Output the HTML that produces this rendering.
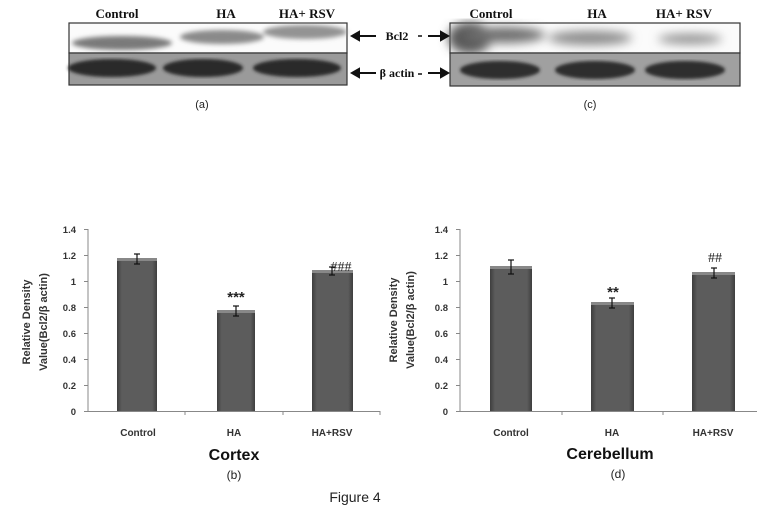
<!DOCTYPE html>
<html><head><meta charset="utf-8"><style>
html,body{margin:0;padding:0;background:#fff;}
svg{display:block;}
</style></head><body>
<svg width="768" height="510" viewBox="0 0 768 510" xmlns="http://www.w3.org/2000/svg">
<defs>
<linearGradient id="bar" x1="0" x2="1" y1="0" y2="0">
<stop offset="0" stop-color="#3e3e3e"/><stop offset="0.12" stop-color="#5c5c5c"/><stop offset="0.88" stop-color="#5c5c5c"/><stop offset="1" stop-color="#3e3e3e"/>
</linearGradient>
<filter id="blur"><feGaussianBlur stdDeviation="2.5"/></filter>
<filter id="blur3"><feGaussianBlur stdDeviation="5"/></filter>
<filter id="blur2"><feGaussianBlur stdDeviation="1.5"/></filter>
</defs>
<g font-family="Liberation Serif, serif" font-weight="bold" font-size="13" fill="#111">
<text x="117" y="18" text-anchor="middle">Control</text>
<text x="226" y="18" text-anchor="middle">HA</text>
<text x="307" y="18" text-anchor="middle">HA+ RSV</text>
<text x="491" y="18" text-anchor="middle">Control</text>
<text x="597" y="18" text-anchor="middle">HA</text>
<text x="684" y="18" text-anchor="middle">HA+ RSV</text>
</g>
<!-- blot a -->
<rect x="69" y="23" width="278" height="30" fill="#fbfbfb" stroke="#333" stroke-width="1.2"/>
<g filter="url(#blur)">
<ellipse cx="122" cy="43" rx="50" ry="7" fill="#7a7a7a"/>
<ellipse cx="222" cy="37" rx="42" ry="7" fill="#8a8a8a"/>
<ellipse cx="305" cy="32" rx="42" ry="7" fill="#939393"/>
</g>
<rect x="69" y="53" width="278" height="32" fill="#9a9a9a" stroke="#333" stroke-width="1.2"/>
<g filter="url(#blur2)" fill="#2a2a2a">
<ellipse cx="112" cy="68" rx="44" ry="9"/>
<ellipse cx="203" cy="68" rx="40" ry="9"/>
<ellipse cx="297" cy="68" rx="44" ry="9"/>
</g>
<!-- blot c -->
<rect x="450" y="23" width="290" height="30" fill="#fbfbfb" stroke="#333" stroke-width="1.2"/>
<g filter="url(#blur3)">
<ellipse cx="470" cy="38" rx="22" ry="16" fill="#5a5a5a"/>
<ellipse cx="505" cy="35" rx="40" ry="8" fill="#6e6e6e"/>
<ellipse cx="590" cy="38" rx="42" ry="7" fill="#8a8a8a"/>
<ellipse cx="690" cy="39" rx="32" ry="5" fill="#8e8e8e"/>
</g>
<rect x="450" y="53" width="290" height="33" fill="#a0a0a0" stroke="#333" stroke-width="1.2"/>
<g filter="url(#blur2)" fill="#2e2e2e">
<ellipse cx="500" cy="70" rx="40" ry="9"/>
<ellipse cx="595" cy="70" rx="40" ry="9"/>
<ellipse cx="685" cy="70" rx="40" ry="9"/>
</g>
<!-- arrows -->
<g stroke="#111" stroke-width="2" fill="#111">
<line x1="356" y1="36" x2="376" y2="36"/><path d="M352,36 L359,32 L359,40Z"/>
<line x1="356" y1="73" x2="376" y2="73"/><path d="M352,73 L359,69 L359,77Z"/>
<line x1="428" y1="36" x2="442" y2="36"/><path d="M448,36 L441,32 L441,40Z"/>
<line x1="428" y1="73" x2="442" y2="73"/><path d="M448,73 L441,69 L441,77Z"/>
<line x1="418" y1="36" x2="422" y2="36" stroke-width="1.5"/>
<line x1="418" y1="74" x2="422" y2="74" stroke-width="1.5"/>
</g>
<g font-family="Liberation Serif, serif" font-weight="bold" font-size="12" fill="#111">
<text x="397" y="40" text-anchor="middle">Bcl2</text>
<text x="397" y="77" text-anchor="middle">β actin</text>
</g>
<g font-family="Liberation Sans, sans-serif" font-size="11" fill="#222" text-anchor="middle">
<text x="202" y="108">(a)</text>
<text x="590" y="108">(c)</text>
</g>

<!-- chart b -->
<g font-family="Liberation Sans, sans-serif" fill="#333">
<g font-size="9.5" font-weight="bold" text-anchor="end">
<text x="76" y="415">0</text><text x="76" y="389">0.2</text><text x="76" y="363">0.4</text><text x="76" y="337">0.6</text><text x="76" y="311">0.8</text><text x="76" y="285">1</text><text x="76" y="259">1.2</text><text x="76" y="233">1.4</text>
</g>
<g stroke="#888" stroke-width="1">
<line x1="88" y1="229" x2="88" y2="412"/><line x1="88" y1="411.5" x2="380" y2="411.5"/>
<line x1="84" y1="411.5" x2="88" y2="411.5"/><line x1="84" y1="385.5" x2="88" y2="385.5"/><line x1="84" y1="359.5" x2="88" y2="359.5"/><line x1="84" y1="333.5" x2="88" y2="333.5"/><line x1="84" y1="307.5" x2="88" y2="307.5"/><line x1="84" y1="281.5" x2="88" y2="281.5"/><line x1="84" y1="255.5" x2="88" y2="255.5"/><line x1="84" y1="229.5" x2="88" y2="229.5"/>
<line x1="185" y1="411" x2="185" y2="415"/><line x1="283" y1="411" x2="283" y2="415"/><line x1="380" y1="411" x2="380" y2="415"/>
</g>
<rect x="117" y="259" width="40" height="152" fill="url(#bar)"/><rect x="117" y="258" width="40" height="3" fill="#888"/>
<rect x="217" y="311" width="38" height="100" fill="url(#bar)"/><rect x="217" y="310" width="38" height="3" fill="#888"/>
<rect x="312" y="271" width="41" height="140" fill="url(#bar)"/><rect x="312" y="270" width="41" height="3" fill="#888"/>
<g stroke="#111" stroke-width="1.2">
<line x1="137" y1="254" x2="137" y2="264"/><line x1="134" y1="254" x2="140" y2="254"/><line x1="134" y1="264" x2="140" y2="264"/>
<line x1="236" y1="306" x2="236" y2="316"/><line x1="233" y1="306" x2="239" y2="306"/><line x1="233" y1="316" x2="239" y2="316"/>
<line x1="332" y1="267" x2="332" y2="275"/><line x1="329" y1="267" x2="335" y2="267"/><line x1="329" y1="275" x2="335" y2="275"/>
</g>
<text x="236" y="302" font-size="15" font-weight="bold" fill="#222" text-anchor="middle">***</text>
<text x="341" y="271" font-size="14" fill="#222" text-anchor="middle" font-family="Liberation Serif, serif">###</text>
<g font-size="10" font-weight="bold" text-anchor="middle" fill="#333">
<text x="138" y="436">Control</text><text x="234" y="436">HA</text><text x="332" y="436">HA+RSV</text>
</g>
<text x="234" y="460" font-size="16" font-weight="bold" text-anchor="middle" fill="#111">Cortex</text>
<text x="234" y="479" font-size="12" text-anchor="middle" fill="#222">(b)</text>
<g font-size="11" font-weight="bold" text-anchor="middle" fill="#333">
<text transform="translate(30,322) rotate(-90)">Relative Density</text>
<text transform="translate(47,322) rotate(-90)">Value(Bcl2/β actin)</text>
</g>
</g>

<!-- chart d -->
<g font-family="Liberation Sans, sans-serif" fill="#333">
<g font-size="9.5" font-weight="bold" text-anchor="end">
<text x="448" y="415">0</text><text x="448" y="389">0.2</text><text x="448" y="363">0.4</text><text x="448" y="337">0.6</text><text x="448" y="311">0.8</text><text x="448" y="285">1</text><text x="448" y="259">1.2</text><text x="448" y="233">1.4</text>
</g>
<g stroke="#888" stroke-width="1">
<line x1="460" y1="229" x2="460" y2="412"/><line x1="460" y1="411.5" x2="757" y2="411.5"/>
<line x1="456" y1="411.5" x2="460" y2="411.5"/><line x1="456" y1="385.5" x2="460" y2="385.5"/><line x1="456" y1="359.5" x2="460" y2="359.5"/><line x1="456" y1="333.5" x2="460" y2="333.5"/><line x1="456" y1="307.5" x2="460" y2="307.5"/><line x1="456" y1="281.5" x2="460" y2="281.5"/><line x1="456" y1="255.5" x2="460" y2="255.5"/><line x1="456" y1="229.5" x2="460" y2="229.5"/>
<line x1="562" y1="411" x2="562" y2="415"/><line x1="663" y1="411" x2="663" y2="415"/>
</g>
<rect x="490" y="267" width="42" height="144" fill="url(#bar)"/><rect x="490" y="266" width="42" height="3" fill="#888"/>
<rect x="591" y="303" width="43" height="108" fill="url(#bar)"/><rect x="591" y="302" width="43" height="3" fill="#888"/>
<rect x="692" y="273" width="43" height="138" fill="url(#bar)"/><rect x="692" y="272" width="43" height="3" fill="#888"/>
<g stroke="#111" stroke-width="1.2">
<line x1="511" y1="260" x2="511" y2="274"/><line x1="508" y1="260" x2="514" y2="260"/><line x1="508" y1="274" x2="514" y2="274"/>
<line x1="612" y1="298" x2="612" y2="308"/><line x1="609" y1="298" x2="615" y2="298"/><line x1="609" y1="308" x2="615" y2="308"/>
<line x1="714" y1="268" x2="714" y2="278"/><line x1="711" y1="268" x2="717" y2="268"/><line x1="711" y1="278" x2="717" y2="278"/>
</g>
<text x="613" y="297" font-size="15" font-weight="bold" fill="#222" text-anchor="middle">**</text>
<text x="715" y="262" font-size="14" fill="#222" text-anchor="middle" font-family="Liberation Serif, serif">##</text>
<g font-size="10" font-weight="bold" text-anchor="middle" fill="#333">
<text x="511" y="436">Control</text><text x="612" y="436">HA</text><text x="713" y="436">HA+RSV</text>
</g>
<text x="610" y="459" font-size="16" font-weight="bold" text-anchor="middle" fill="#111">Cerebellum</text>
<text x="618" y="478" font-size="12" text-anchor="middle" fill="#222">(d)</text>
<g font-size="11" font-weight="bold" text-anchor="middle" fill="#333">
<text transform="translate(397,320) rotate(-90)">Relative Density</text>
<text transform="translate(414,320) rotate(-90)">Value(Bcl2/β actin)</text>
</g>
</g>
<text x="355" y="502" font-family="Liberation Sans, sans-serif" font-size="14" text-anchor="middle" fill="#222">Figure 4</text>
</svg>
</body></html>
